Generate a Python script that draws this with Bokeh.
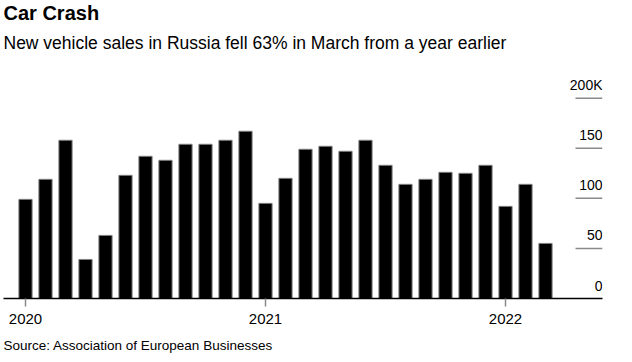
from bokeh.plotting import figure
from bokeh.models import Range1d, Title, FixedTicker, ColumnDataSource
from bokeh.embed import file_html
from bokeh.resources import INLINE
from bokeh.core.properties import value

# ---- data (thousands of new vehicles sold per month, Jan 2020 - Mar 2022)
months = ["2020-01", "2020-02", "2020-03", "2020-04", "2020-05", "2020-06",
          "2020-07", "2020-08", "2020-09", "2020-10", "2020-11", "2020-12",
          "2021-01", "2021-02", "2021-03", "2021-04", "2021-05", "2021-06",
          "2021-07", "2021-08", "2021-09", "2021-10", "2021-11", "2021-12",
          "2022-01", "2022-02", "2022-03"]
sales_k = [99, 119, 158, 39, 63, 123, 142, 138, 154, 154, 158, 167,
           95, 120, 149, 152, 147, 158, 133, 114, 119, 126, 125, 133,
           92, 114, 55]
year_ticks = [0, 12, 24]
year_labels = ["2020", "2021", "2022"]
y_ticks = [0, 50, 100, 150, 200]
y_labels = ["0", "50", "100", "150", "200K"]

FONT = "Liberation Sans"

W, H = 620, 362
idx = list(range(len(months)))
x_start, x_end = -1.1, 28.85
frame_left, frame_right = 3, 602
frame_top, frame_bottom = 70, 298
y_end = (frame_bottom - frame_top) / 1.0015

p = figure(width=W, height=H, output_backend="svg", toolbar_location=None,
           title=None, x_range=Range1d(x_start, x_end), y_range=Range1d(0, y_end),
           y_axis_location=None, min_border_left=frame_left,
           min_border_right=W - frame_right, min_border_top=frame_top,
           min_border_bottom=H - frame_bottom)
p.outline_line_color = None
p.grid.visible = False
p.background_fill_color = "white"
p.border_fill_color = "white"

src = ColumnDataSource(dict(x=idx, top=sales_k, month=months))
p.vbar(x="x", top="top", width=0.66, source=src, fill_color="black",
       line_color="#808080", line_width=1)

# right-hand value scale: short gray rules with labels above
gx0 = [x_end - 27 / 20.0] * (len(y_ticks) - 1)
gx1 = [x_end] * (len(y_ticks) - 1)
p.segment(x0=gx0, x1=gx1, y0=y_ticks[1:], y1=y_ticks[1:], line_color="#8a8a8a",
          line_width=1.5)
p.text(x=[x_end] * len(y_ticks), y=y_ticks, text=y_labels, text_align="right",
       text_baseline="alphabetic", y_offset=-13, text_font=value(FONT),
       text_font_size="14px", text_color="black")

xa = p.xaxis[0]
xa.ticker = FixedTicker(ticks=year_ticks)
xa.major_label_overrides = {t: l for t, l in zip(year_ticks, year_labels)}
xa.axis_line_color = "black"
xa.axis_line_width = 1.5
xa.major_tick_line_color = "#8a8a8a"
xa.major_tick_line_width = 1.5
xa.major_tick_out = 8
xa.major_tick_in = 0
xa.minor_tick_line_color = None
xa.major_label_standoff = 7
xa.major_label_text_font = FONT
xa.major_label_text_font_size = "15px"
xa.major_label_text_color = "black"

p.add_layout(Title(text="New vehicle sales in Russia fell 63% in March from a year earlier",
                   text_font=FONT, text_font_size="17.5px", text_font_style="normal",
                   align="left", standoff=35, text_color="black"), "above")
p.add_layout(Title(text="Car Crash", text_font=FONT, text_font_size="20px",
                   text_font_style="bold", align="left", standoff=-20,
                   text_color="black"), "above")
p.add_layout(Title(text="Source: Association of European Businesses", text_font=FONT,
                   text_font_size="13.5px", text_font_style="normal", align="left",
                   standoff=18, text_color="black"), "below")

open("out.html", "w").write(file_html(p, INLINE))
